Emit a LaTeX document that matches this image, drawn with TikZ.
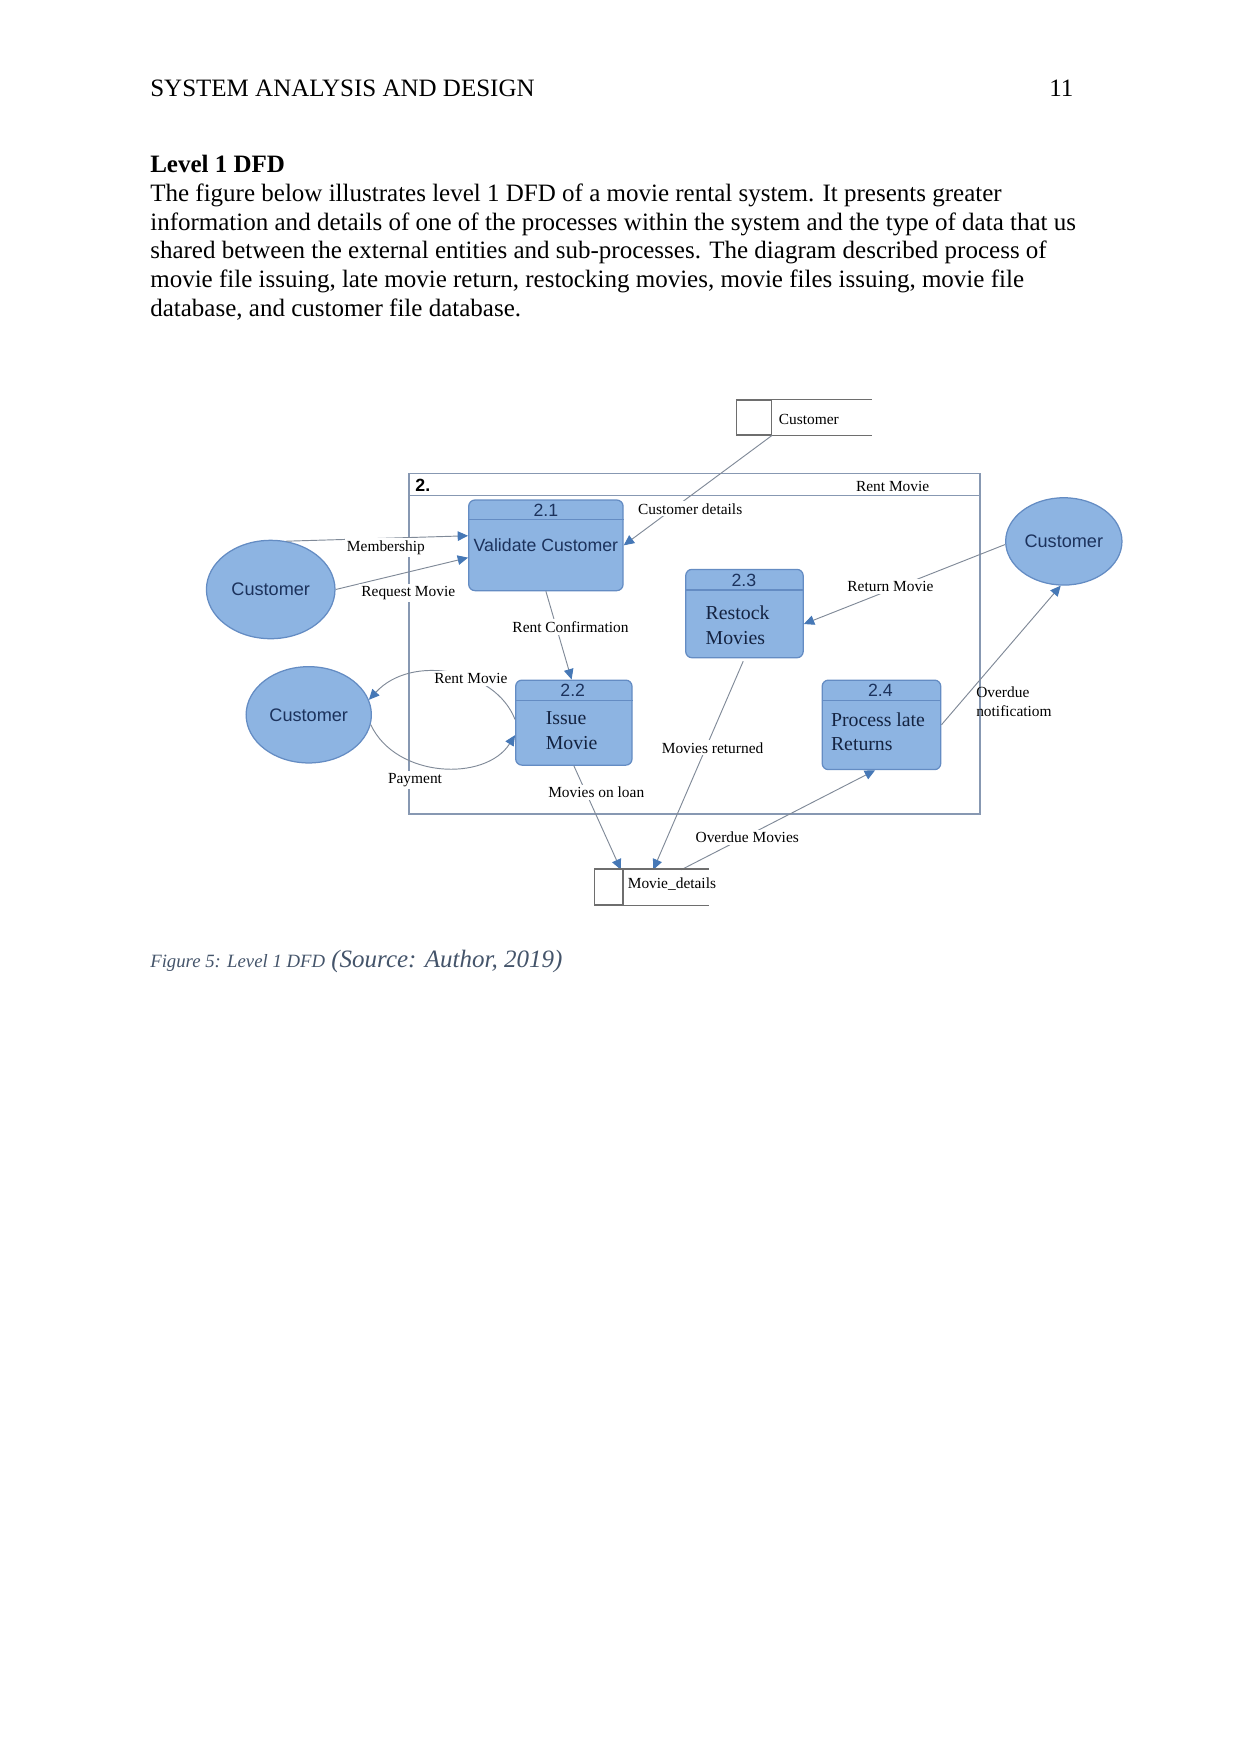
\documentclass[tikz,border=0pt]{standalone}
\usepackage{fontspec}
\setmainfont{Liberation Serif}
\newfontfamily\arialf{Liberation Sans}
\usetikzlibrary{arrows.meta,shapes.geometric,fit}
\definecolor{procfill}{RGB}{141,180,226}
\definecolor{procdraw}{RGB}{100,140,195}
\definecolor{arrowblue}{RGB}{70,120,182}
\definecolor{flowgray}{RGB}{128,138,152}
\definecolor{framegray}{RGB}{135,152,178}
\definecolor{storegray}{RGB}{110,110,110}
\definecolor{navy}{RGB}{28,50,92}
\definecolor{capblue}{RGB}{68,84,106}
\begin{document}
\begin{tikzpicture}[x=0.5368pt,y=-0.5368pt,
  proc/.style={draw=procdraw, fill=procfill, rounded corners=3pt, inner sep=0pt, line width=0.6pt},
  ent/.style={ellipse, draw=procdraw, fill=procfill, inner sep=0pt, line width=0.6pt,
              font=\arialf\fontsize{8.7}{10}\selectfont, text=navy},
  pnum/.style={font=\arialf\fontsize{8.5}{10}\selectfont, text=navy, inner sep=0pt},
  pname/.style={font=\fontsize{9.5}{11.8}\selectfont, text=navy!70!black, align=left, inner sep=0pt, anchor=west},
  divline/.style={draw=procdraw, line width=0.6pt},
  flow/.style={draw=flowgray, line width=0.45pt, -{Triangle[length=5pt,width=4.6pt,color=arrowblue]}},
  flab/.style={font=\fontsize{7.4}{8.6}\selectfont, inner sep=1pt, fill=white},
  flabnf/.style={font=\fontsize{7.4}{8.6}\selectfont, inner sep=1pt},
  store/.style={draw=storegray, line width=0.6pt, inner sep=0pt},
  storeline/.style={draw=storegray, line width=0.6pt},
  frame/.style={draw=framegray, line width=0.7pt},
  bodytext/.style={font=\fontsize{12}{13.8}\selectfont, inner sep=0pt, anchor=base west}
]
\useasboundingbox (0,0) rectangle (1109,1568);

% ---- page text ----
\node[bodytext] (hdr) at (134,86) {SYSTEM ANALYSIS AND DESIGN};
\node[bodytext, anchor=base east] (pg) at (960,86) {11};
\node[bodytext, font=\fontsize{12}{13.8}\selectfont\bfseries] (ttl) at (134,154) {Level 1 DFD};
\node[bodytext] (l1) at (134,180) {The figure below illustrates level 1 DFD of a movie rental system. It presents greater};
\node[bodytext] (l2) at (134,205.7) {information and details of one of the processes within the system and the type of data that us};
\node[bodytext] (l3) at (134,231.4) {shared between the external entities and sub-processes. The diagram described process of};
\node[bodytext] (l4) at (134,257.1) {movie file issuing, late movie return, restocking movies, movie files issuing, movie file};
\node[bodytext] (l5) at (134,282.8) {database, and customer file database.};
\node[bodytext, text=capblue] (cap) at (134,865) {{\fontsize{9}{11}\selectfont\itshape Figure 5: Level 1 DFD} {\itshape (Source: Author, 2019)}};

% ---- frame ----
\node[frame, fit={(365.5,423.5)(876,727.5)}, inner sep=0pt] (frm) {};
\draw[frame] (365.5,443) -- (876,443);
\node[font=\arialf\bfseries\fontsize{8.5}{10}\selectfont, inner sep=0pt] (frmno) at (378,433.5) {2.};
\node[flabnf] (frmlab) at (798,434.5) {Rent Movie};

% ---- data stores ----
\node[store, fit={(658.3,357.5)(689.6,388.7)}] (dsC) {};
\draw[storeline] (dsC.north west) -- ++(122,0);
\draw[storeline] (dsC.south west) -- ++(122,0);
\node[flabnf, anchor=west] (dsCt) at (694,375) {Customer};

\node[store, fit={(531.7,777.5)(557,808.8)}] (dsM) {};
\node[flabnf, anchor=west] (dsMt) at (559,790) {Movie\_details};

% ---- processes ----
\node[proc, fit={(419,447)(557,528)}] (p21) {};
\node[proc, fit={(461,608)(565,684)}] (p22) {};
\node[proc, fit={(613,509)(718,588)}] (p23) {};
\node[proc, fit={(735,608)(841,688)}] (p24) {};
\draw[divline] ([yshift=-9.66pt]p21.north west) -- ([yshift=-9.66pt]p21.north east);
\draw[divline] ([yshift=-10.2pt]p22.north west) -- ([yshift=-10.2pt]p22.north east);
\draw[divline] ([yshift=-10.2pt]p23.north west) -- ([yshift=-10.2pt]p23.north east);
\draw[divline] ([yshift=-10.2pt]p24.north west) -- ([yshift=-10.2pt]p24.north east);

% ---- external entities ----
\node[ent, minimum width=61.7pt, minimum height=47.2pt] (c1) at (242,527) {Customer};
\node[ent, minimum width=60.1pt, minimum height=46.2pt] (c2) at (276,639) {Customer};
\node[ent, minimum width=55.8pt, minimum height=41.9pt] (c3) at (951,484) {Customer};

% ---- flows ----
\coordinate (mdA) at (555,777.5);
\coordinate (mdB) at (584,777.5);
\coordinate (mdC) at (609,777.5);
\draw[flow] (c1.72) -- (p21.173);
\draw[flow] (c1.east) -- (p21.189.5);
\draw[flow] (dsC.south east) -- (p21.east);
\draw[flow] (p21.south) -- (p22.93);
\draw[flow] (p22.177) .. controls (443,598) and (368,584) .. (c2.14);
\draw[flow] (c2.-9) .. controls (354,696) and (434,699) .. (p22.192);
\draw[flow] (c3.183) -- (p23.-10.5);
\draw[flow] (p24.east) -- (c3.-94);
\draw[flow, shorten <=1.5pt] (p23.south) -- (mdB);
\draw[flow] (p22.south) -- (mdA);
\draw[flow] (mdC) -- (p24.262);

% ---- flow labels ----
\node[flab] (lbMem) at (345,489.5) {Membership};
\node[flab] (lbReq) at (365,530) {Request Movie};
\node[flab] (lbCD) at (617,455) {Customer details};
\node[flab] (lbRC) at (510,560.5) {Rent Confirmation};
\node[flab] (lbRM) at (421,606.5) {Rent Movie};
\node[flab] (lbPay) at (371,697.5) {Payment};
\node[flab] (lbRet) at (796,524.5) {Return Movie};
\node[flabnf, anchor=north west, align=left, font=\fontsize{7.4}{9}\selectfont] (lbON) at (870.5,612) {Overdue\\notificatiom};
\node[flab] (lbMR) at (637,668.5) {Movies returned};
\node[flab] (lbML) at (533,708.5) {Movies on loan};
\node[flab] (lbOM) at (668,748.5) {Overdue Movies};

% store outer lines drawn last so nothing covers them
\draw[storeline] (dsM.north west) -- ++(103,0);
\draw[storeline] (dsM.south west) -- ++(103,0);

% ---- process texts ----
\node[pnum] (n21) at (488,456.5) {2.1};
\node[pnum] (t21) at (488,487.5) {Validate Customer};
\node[pnum] (n22) at (512,617.5) {2.2};
\node[pname] (t22) at (487.5,653) {Issue\\Movie};
\node[pnum] (n23) at (665,518.5) {2.3};
\node[pname] (t23) at (630.5,559) {Restock\\Movies};
\node[pnum] (n24) at (787,617.5) {2.4};
\node[pname] (t24) at (742.5,654) {Process late\\Returns};
\end{tikzpicture}
\end{document}
